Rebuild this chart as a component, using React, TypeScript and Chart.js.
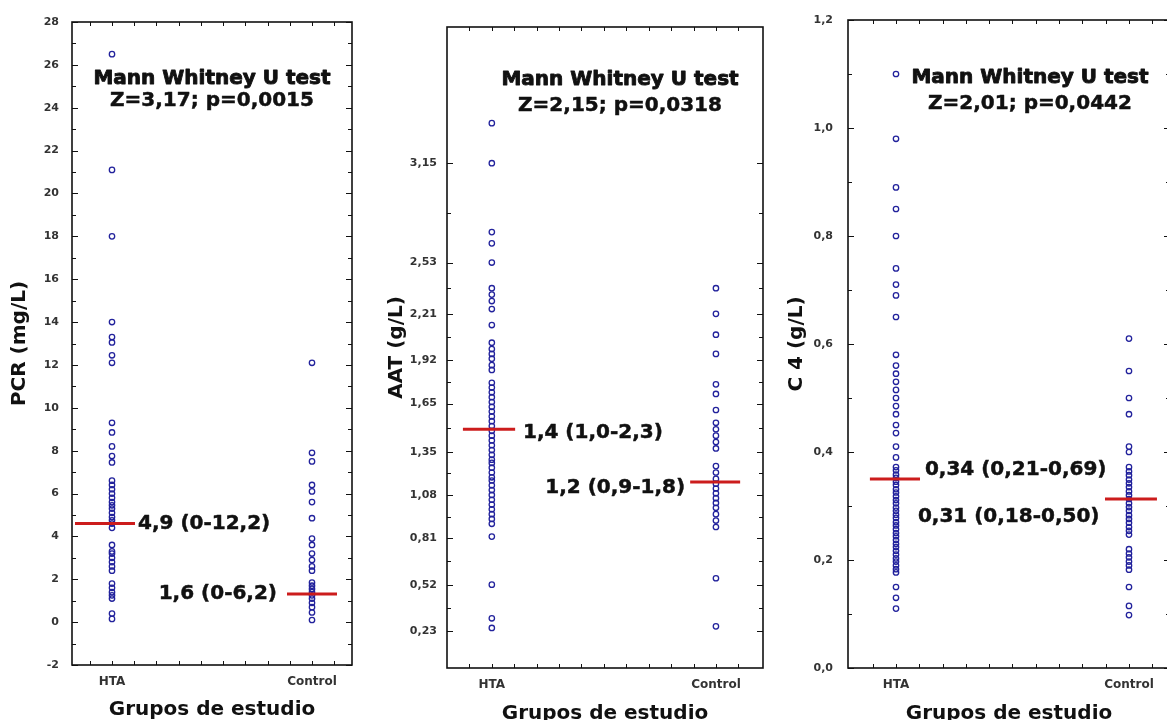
import React, { useEffect, useRef } from 'react';
import { Chart, registerables } from 'chart.js';

Chart.register(...registerables);

// ---------------- data ----------------
const groups = ['HTA', 'Control'];
const xTitle = 'Grupos de estudio';
const yTitles = ['PCR (mg/L)', 'AAT (g/L)', 'C 4 (g/L)'];

const pcrHTA = [26.5, 21.1, 18.0, 14.0, 13.3, 13.05, 12.45, 12.1, 9.3, 8.85, 8.2, 7.75, 7.45, 6.6, 6.4, 6.2, 6.0, 5.8, 5.6, 5.45, 5.3, 5.1, 4.9, 4.75, 4.6, 4.4, 3.6, 3.3, 3.2, 3.0, 2.8, 2.6, 2.4, 1.8, 1.6, 1.4, 1.25, 1.1, 0.4, 0.15];
const pcrControl = [12.1, 7.9, 7.5, 6.4, 6.1, 5.6, 4.85, 3.9, 3.6, 3.2, 2.9, 2.6, 2.4, 1.85, 1.7, 1.55, 1.4, 1.25, 1.1, 0.9, 0.7, 0.45, 0.1];

const aatHTA = [3.40, 3.15, 2.72, 2.65, 2.53, 2.37, 2.33, 2.29, 2.24, 2.14, 2.03, 1.99, 1.96, 1.93, 1.89, 1.86, 1.78, 1.75, 1.72, 1.69, 1.66, 1.63, 1.60, 1.57, 1.54, 1.51, 1.48, 1.45, 1.42, 1.39, 1.36, 1.33, 1.30, 1.28, 1.25, 1.22, 1.19, 1.17, 1.14, 1.11, 1.08, 1.05, 1.02, 0.99, 0.96, 0.93, 0.90, 0.82, 0.52, 0.31, 0.25];
const aatControl = [2.37, 2.21, 2.08, 1.96, 1.77, 1.71, 1.61, 1.53, 1.49, 1.45, 1.41, 1.37, 1.26, 1.22, 1.18, 1.15, 1.12, 1.09, 1.06, 1.03, 1.00, 0.96, 0.92, 0.88, 0.56, 0.26];

const c4HTA = [1.10, 0.98, 0.89, 0.85, 0.80, 0.74, 0.71, 0.69, 0.65, 0.58, 0.56, 0.545, 0.53, 0.515, 0.50, 0.485, 0.47, 0.45, 0.435, 0.41, 0.39, 0.372, 0.366, 0.358, 0.352, 0.345, 0.339, 0.331, 0.325, 0.318, 0.311, 0.305, 0.297, 0.291, 0.284, 0.278, 0.270, 0.264, 0.257, 0.250, 0.244, 0.237, 0.230, 0.224, 0.217, 0.210, 0.203, 0.197, 0.190, 0.183, 0.177, 0.15, 0.13, 0.11];
const c4Control = [0.61, 0.55, 0.50, 0.47, 0.41, 0.40, 0.372, 0.364, 0.357, 0.349, 0.342, 0.335, 0.327, 0.320, 0.313, 0.305, 0.298, 0.291, 0.283, 0.276, 0.269, 0.261, 0.254, 0.247, 0.220, 0.212, 0.205, 0.197, 0.190, 0.182, 0.15, 0.115, 0.098];

const pcrMedians = [4.6, 1.31];
const aatMedians = [1.49, 1.16];
const c4Medians = [0.35, 0.313];

const pcrNotes = ['4,9 (0-12,2)', '1,6 (0-6,2)'];
const aatNotes = ['1,4 (1,0-2,3)', '1,2 (0,9-1,8)'];
const c4Notes = ['0,34 (0,21-0,69)', '0,31 (0,18-0,50)'];

const pcrTest = ['Mann Whitney U test', 'Z=3,17; p=0,0015'];
const aatTest = ['Mann Whitney U test', 'Z=2,15; p=0,0318'];
const c4Test = ['Mann Whitney U test', 'Z=2,01; p=0,0442'];

const pcrTicks = [-2, 0, 2, 4, 6, 8, 10, 12, 14, 16, 18, 20, 22, 24, 26, 28];
const aatTicks = [0.23, 0.52, 0.81, 1.08, 1.35, 1.65, 1.92, 2.21, 2.53, 3.15];
const c4Ticks = [0.0, 0.2, 0.4, 0.6, 0.8, 1.0, 1.2];

// ---------------- styling / layout ----------------
const BLUE = '#22229c';
const RED = '#cc1c1c';
const FONT = '"DejaVu Sans", "Liberation Sans", sans-serif';

type Note = { text: string; x: number; y: number; align: CanvasTextAlign; heavy?: number };

interface PanelCfg {
  left: number;
  width: number;
  area: { left: number; top: number; right: number; bottom: number };
  yTitle: string;
  yTitlePad: number;
  xTitlePad: number;
  yMin: number;
  yMax: number;
  yTicks: number[];
  yMinor: number[];
  fmt: (v: number) => string;
  labelPad: number;
  xMin: number;
  xMax: number;
  xMinor: number[];
  hta: number[];
  control: number[];
  medians: number[];
  medSpans: [number, number][];
  notes: Note[];
}

const mids = (arr: number[]) => arr.slice(1).map((v, i) => (v + arr[i]) / 2);
const range = (a: number, b: number, step: number) => {
  const out: number[] = [];
  for (let v = a; v <= b + 1e-9; v += step) out.push(v);
  return out;
};

const panels: PanelCfg[] = [
  {
    left: 0, width: 372,
    area: { left: 72, top: 22, right: 352, bottom: 665 },
    yTitle: yTitles[0], yTitlePad: 10, xTitlePad: 0,
    yMin: -2, yMax: 28, yTicks: pcrTicks, yMinor: mids(pcrTicks),
    fmt: (v) => String(v), labelPad: 5,
    xMin: 0.8, xMax: 2.2, xMinor: range(1 - 1 / 9, 2 + 1 / 9, 1 / 9),
    hta: pcrHTA, control: pcrControl, medians: pcrMedians,
    medSpans: [[0.815, 1.115], [1.875, 2.125]],
    notes: [
      { text: pcrNotes[0], x: 1.13, y: pcrMedians[0], align: 'left' },
      { text: pcrNotes[1], x: 1.825, y: pcrMedians[1], align: 'right' },
      { text: pcrTest[0], x: 1.5, y: 25.34, align: 'center', heavy: 1 },
      { text: pcrTest[1], x: 1.5, y: 24.31, align: 'center' },
    ],
  },
  {
    left: 380, width: 400,
    area: { left: 67, top: 27, right: 383, bottom: 668 },
    yTitle: yTitles[1], yTitlePad: 7, xTitlePad: -4,
    yMin: 0, yMax: 4.0, yTicks: aatTicks, yMinor: mids(aatTicks),
    fmt: (v) => v.toFixed(2).replace('.', ','), labelPad: 2,
    xMin: 0.8, xMax: 2.21, xMinor: range(0.9, 2.1, 0.1),
    hta: aatHTA, control: aatControl, medians: aatMedians,
    medSpans: [[0.871, 1.104], [1.885, 2.108]],
    notes: [
      { text: aatNotes[0], x: 1.139, y: 1.47, align: 'left' },
      { text: aatNotes[1], x: 1.8625, y: 1.127, align: 'right' },
      { text: aatTest[0], x: 1.572, y: 3.67, align: 'center', heavy: 1 },
      { text: aatTest[1], x: 1.572, y: 3.51, align: 'center' },
    ],
  },
  {
    left: 780, width: 420,
    area: { left: 68, top: 20, right: 390, bottom: 668 },
    yTitle: yTitles[2], yTitlePad: 7, xTitlePad: -4,
    yMin: 0, yMax: 1.2, yTicks: c4Ticks, yMinor: mids(c4Ticks),
    fmt: (v) => v.toFixed(1).replace('.', ','), labelPad: 7,
    xMin: 0.794, xMax: 2.176, xMinor: range(0.9, 2.1, 0.1),
    hta: c4HTA, control: c4Control, medians: c4Medians,
    medSpans: [[0.888, 1.103], [1.897, 2.12]],
    notes: [
      { text: c4Notes[0], x: 1.124, y: 0.3667, align: 'left' },
      { text: c4Notes[1], x: 1.094, y: 0.2796, align: 'left' },
      { text: c4Test[0], x: 1.575, y: 1.0926, align: 'center', heavy: 1 },
      { text: c4Test[1], x: 1.575, y: 1.0444, align: 'center' },
    ],
  },
];

function makePlugin(cfg: PanelCfg) {
  return {
    id: 'frameNotes',
    beforeDatasetsDraw(chart: any) {
      const { ctx, chartArea } = chart;
      const { left, right, top, bottom } = chartArea;
      const xs = chart.scales.x;
      const ys = chart.scales.y;
      ctx.save();
      ctx.strokeStyle = '#111';
      ctx.lineWidth = 1;
      ctx.beginPath();
      for (const v of cfg.yTicks) {
        const y = Math.round(ys.getPixelForValue(v)) + 0.5;
        ctx.moveTo(left, y); ctx.lineTo(left + 6, y);
        ctx.moveTo(right, y); ctx.lineTo(right - 6, y);
      }
      for (const v of cfg.yMinor) {
        const y = Math.round(ys.getPixelForValue(v)) + 0.5;
        ctx.moveTo(left, y); ctx.lineTo(left + 4, y);
        ctx.moveTo(right, y); ctx.lineTo(right - 4, y);
      }
      for (const v of cfg.xMinor) {
        const x = Math.round(xs.getPixelForValue(v)) + 0.5;
        ctx.moveTo(x, bottom); ctx.lineTo(x, bottom - 4);
        ctx.moveTo(x, top); ctx.lineTo(x, top + 4);
      }
      ctx.stroke();
      ctx.lineWidth = 1.6;
      ctx.strokeRect(left, top, right - left, bottom - top);
      ctx.restore();
    },
    afterDatasetsDraw(chart: any) {
      const { ctx } = chart;
      const xs = chart.scales.x;
      const ys = chart.scales.y;
      ctx.save();
      ctx.font = `bold 20px ${FONT}`;
      ctx.fillStyle = '#111';
      ctx.strokeStyle = '#111';
      ctx.lineJoin = 'round';
      ctx.textBaseline = 'middle';
      for (const n of cfg.notes) {
        const x = xs.getPixelForValue(n.x);
        const y = ys.getPixelForValue(n.y);
        ctx.textAlign = n.align;
        ctx.fillText(n.text, x, y);
        ctx.lineWidth = n.heavy ? 0.9 : 0.5;
        ctx.strokeText(n.text, x, y);
      }
      ctx.restore();
    },
  };
}

function Panel({ cfg }: { cfg: PanelCfg }) {
  const ref = useRef<HTMLCanvasElement>(null);
  useEffect(() => {
    const canvas = ref.current;
    if (!canvas) return;
    const scatterStyle = {
      pointRadius: 2.7,
      pointHoverRadius: 2.7,
      borderWidth: 1.3,
      borderColor: BLUE,
      backgroundColor: 'rgba(0,0,0,0)',
    };
    const chart = new Chart(canvas, {
      type: 'scatter',
      data: {
        datasets: [
          {
            type: 'line',
            data: cfg.medSpans[0].map((x) => ({ x, y: cfg.medians[0] })),
            borderColor: RED, borderWidth: 3, pointRadius: 0, showLine: true,
            borderCapStyle: 'butt',
          } as any,
          {
            type: 'line',
            data: cfg.medSpans[1].map((x) => ({ x, y: cfg.medians[1] })),
            borderColor: RED, borderWidth: 3, pointRadius: 0, showLine: true,
            borderCapStyle: 'butt',
          } as any,
          { data: cfg.hta.map((y) => ({ x: 1, y })), ...scatterStyle },
          { data: cfg.control.map((y) => ({ x: 2, y })), ...scatterStyle },
        ],
      },
      options: {
        responsive: false,
        animation: false,
        events: [],
        layout: {
          padding: { top: cfg.area.top, right: cfg.width - cfg.area.right, left: 0, bottom: 0 },
        },
        plugins: { legend: { display: false }, tooltip: { enabled: false } },
        scales: {
          x: {
            type: 'linear',
            min: cfg.xMin,
            max: cfg.xMax,
            afterBuildTicks: (s: any) => { s.ticks = [{ value: 1 }, { value: 2 }]; },
            afterFit: (s: any) => { s.height = 720 - cfg.area.bottom; },
            ticks: {
              callback: (v: any) => (v === 1 ? groups[0] : v === 2 ? groups[1] : ''),
              font: { family: FONT, size: 12, weight: 'bold' },
              color: '#333',
              padding: 2,
              maxRotation: 0,
              autoSkip: false,
            },
            grid: { display: false },
            border: { display: false },
            title: {
              display: true,
              text: xTitle,
              color: '#111',
              font: { family: FONT, size: 20, weight: 'bold', lineHeight: 1 },
              padding: { top: 0, bottom: cfg.xTitlePad },
            },
          },
          y: {
            type: 'linear',
            min: cfg.yMin,
            max: cfg.yMax,
            afterBuildTicks: (s: any) => { s.ticks = cfg.yTicks.map((value) => ({ value })); },
            afterFit: (s: any) => { s.width = cfg.area.left; },
            ticks: {
              callback: (v: any) => cfg.fmt(Number(v)),
              font: { family: FONT, size: 11, weight: 'bold' },
              color: '#333',
              padding: cfg.labelPad,
              autoSkip: false,
            },
            grid: { display: false },
            border: { display: false },
            title: {
              display: true,
              text: cfg.yTitle,
              color: '#111',
              font: { family: FONT, size: 20, weight: 'bold', lineHeight: 1 },
              padding: { top: cfg.yTitlePad, bottom: 0 },
            },
          },
        },
      } as any,
      plugins: [makePlugin(cfg)],
    });
    return () => chart.destroy();
  }, [cfg]);
  return (
    <canvas
      ref={ref}
      width={cfg.width}
      height={720}
      style={{ position: 'absolute', left: cfg.left, top: 0, width: cfg.width, height: 720 }}
    />
  );
}

export default function App() {
  return (
    <div
      style={{
        position: 'fixed',
        left: 0,
        top: 0,
        width: 1167,
        height: 720,
        overflow: 'hidden',
        background: '#fff',
      }}
    >
      {panels.map((p, i) => (
        <Panel key={i} cfg={p} />
      ))}
    </div>
  );
}
